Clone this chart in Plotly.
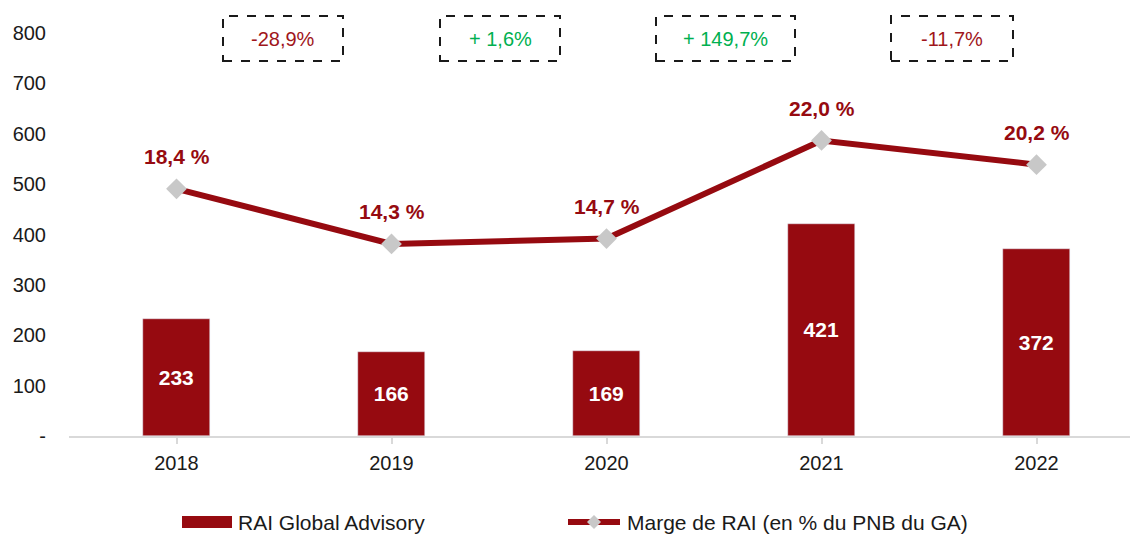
import plotly.graph_objects as go

years = ["2018", "2019", "2020", "2021", "2022"]
rai = [233, 166, 169, 421, 372]
marge = [18.4, 14.3, 14.7, 22.0, 20.2]
variations = ["-28,9%", "+ 1,6%", "+ 149,7%", "-11,7%"]
var_colors = ["#A0161B", "#00B050", "#00B050", "#A0161B"]
y_ticks = [0, 100, 200, 300, 400, 500, 600, 700, 800]
y_ticklabels = ["-", "100", "200", "300", "400", "500", "600", "700", "800"]

RED = "#960A10"
GREY = "#C8C8C8"
FONT = "Liberation Sans, Arial, sans-serif"
TXT = "#1a1a1a"

W, H = 1130, 534
L, R, T, B = 69, 0, 33, 98
PW = W - L - R
PH = H - T - B

def px_x(px):
    return (px - L) / PW

def px_y(py):
    return (H - B - py) / PH

fig = go.Figure()

fig.add_trace(go.Bar(
    x=list(range(len(years))), y=rai, name="RAI Global Advisory",
    marker=dict(color=RED), width=0.316,
    text=[str(v) for v in rai], textposition="inside", insidetextanchor="middle",
    textfont=dict(color="white", size=21, family=FONT, weight="bold"),
    showlegend=False,
))

fig.add_trace(go.Scatter(
    x=list(range(len(years))), y=marge, yaxis="y2", mode="lines+markers",
    name="Marge de RAI (en % du PNB du GA)",
    line=dict(color=RED, width=6),
    marker=dict(symbol="diamond", size=16, color=GREY),
    showlegend=False,
))

# line value labels
for i, v in enumerate(marge):
    fig.add_annotation(
        x=i, y=v, yref="y2", xref="x", text=f"{v:.1f}".replace(".", ",") + " %",
        showarrow=False, yshift=32, xanchor="center", yanchor="middle",
        font=dict(color=RED, size=21, family=FONT, weight="bold"),
    )

# variation boxes (dashed)
box_px = [(223, 343), (440, 560), (656, 795), (891, 1013)]
for (x0p, x1p), txt, col in zip(box_px, variations, var_colors):
    fig.add_shape(type="rect", xref="paper", yref="paper",
                  x0=px_x(x0p), x1=px_x(x1p), y0=px_y(61), y1=px_y(16),
                  line=dict(color=TXT, width=2, dash="dash"))
    fig.add_annotation(xref="paper", yref="paper",
                       x=(px_x(x0p) + px_x(x1p)) / 2, y=px_y(39),
                       xanchor="center", yanchor="middle",
                       text=txt, showarrow=False,
                       font=dict(color=col, size=20, family=FONT))

# custom legend
ly = 522
fig.add_shape(type="rect", xref="paper", yref="paper",
              x0=px_x(182), x1=px_x(232), y0=px_y(528), y1=px_y(516),
              fillcolor=RED, line=dict(width=0))
fig.add_annotation(xref="paper", yref="paper", x=px_x(236), y=px_y(ly),
                   xanchor="left", yanchor="middle", text="RAI Global Advisory", showarrow=False,
                   font=dict(color=TXT, size=21, family=FONT))
fig.add_shape(type="line", xref="paper", yref="paper",
              x0=px_x(568), x1=px_x(620), y0=px_y(ly), y1=px_y(ly),
              line=dict(color=RED, width=6))
cx, cy, d = 594, ly, 7
fig.add_shape(type="path", xref="paper", yref="paper",
              path=f"M {px_x(cx)},{px_y(cy-d)} L {px_x(cx+d)},{px_y(cy)} L {px_x(cx)},{px_y(cy+d)} L {px_x(cx-d)},{px_y(cy)} Z",
              fillcolor=GREY, line=dict(width=0))
fig.add_annotation(xref="paper", yref="paper", x=px_x(625), y=px_y(ly),
                   xanchor="left", yanchor="middle", text="Marge de RAI (en % du PNB du GA)", showarrow=False,
                   font=dict(color=TXT, size=21, family=FONT))

fig.update_layout(
    width=W, height=H,
    margin=dict(l=L, r=R, t=T, b=B),
    paper_bgcolor="white", plot_bgcolor="white",
    font=dict(family=FONT, size=20, color=TXT),
    bargap=0,
    xaxis=dict(
        tickmode="array", tickvals=list(range(len(years))), ticktext=years,
        range=[-0.5, (W - L - R) / 215 - 0.5],
        showgrid=False, zeroline=False,
        showline=True, linecolor="#D9D9D9", linewidth=2,
        ticks="outside", tickson="boundaries", ticklen=6, tickcolor="#D9D9D9", tickwidth=2,
        tickfont=dict(size=20, color=TXT), ticklabelstandoff=2,
    ),
    yaxis=dict(
        range=[0, 800], tickmode="array", tickvals=y_ticks, ticktext=y_ticklabels,
        showgrid=False, zeroline=False, showline=False,
        tickfont=dict(size=20, color=TXT), ticklabelstandoff=22,
    ),
    yaxis2=dict(range=[0, 30], overlaying="y", visible=False),
)

fig.write_html("out.html", config={"displayModeBar": False},
               post_script="document.body.style.margin='0';document.body.style.overflow='hidden';")
